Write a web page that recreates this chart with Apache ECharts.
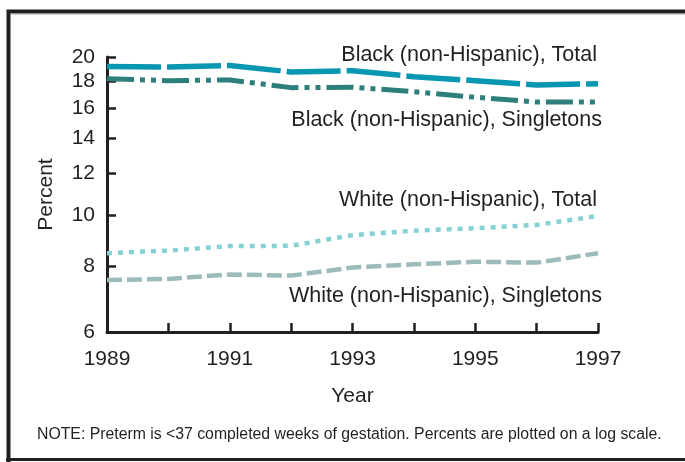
<!DOCTYPE html>
<html>
<head>
<meta charset="utf-8">
<script src="https://cdn.jsdelivr.net/npm/echarts@6/dist/echarts.min.js"></script>
<style>
html,body{margin:0;padding:0;background:#fff;}
#c{width:685px;height:462px;}
</style>
</head>
<body>
<div id="c"></div>
<script>
const years = ['1989','1990','1991','1992','1993','1994','1995','1996','1997'];
const blackTotal = [19.19, 19.14, 19.27, 18.73, 18.84, 18.35, 18.03, 17.69, 17.79];
const blackSingletons = [18.19, 18.03, 18.09, 17.49, 17.52, 17.18, 16.77, 16.42, 16.42];
const whiteTotal = [8.47, 8.57, 8.74, 8.75, 9.17, 9.35, 9.45, 9.59, 9.97];
const whiteSingletons = [7.53, 7.57, 7.72, 7.68, 7.96, 8.07, 8.16, 8.13, 8.47];
const yTicks = [6, 8, 10, 12, 14, 16, 18, 20];
const seriesNames = ['Black (non-Hispanic), Total', 'Black (non-Hispanic), Singletons',
                     'White (non-Hispanic), Total', 'White (non-Hispanic), Singletons'];
const note = 'NOTE: Preterm is <37 completed weeks of gestation. Percents are plotted on a log scale.';

const font = 'Liberation Sans, Arial, Helvetica, sans-serif';
const ink = '#231f20';
const chart = echarts.init(document.getElementById('c'), null, {renderer: 'canvas'});

function lbl(text, x, y, align) {
  return {type: 'text', x: x, y: y, style: {text: text, fill: ink, font: '21.5px ' + font, align: align, verticalAlign: 'middle'}};
}

chart.setOption({
  animation: false,
  backgroundColor: '#fff',
  grid: {left: 107, right: 87, top: 57, bottom: 130},
  xAxis: {
    type: 'category', data: years, boundaryGap: false,
    name: 'Year', nameLocation: 'middle', nameGap: 54,
    nameTextStyle: {color: ink, fontSize: 21, fontFamily: font},
    axisLine: {lineStyle: {color: ink, width: 3}},
    axisTick: {inside: true, length: 9, interval: 0, lineStyle: {color: ink, width: 2.5}},
    axisLabel: {interval: 1, color: ink, fontSize: 21, fontFamily: font, margin: 17},
    splitLine: {show: false}
  },
  yAxis: {
    type: 'log', logBase: 10, min: 6, max: 20,
    name: 'Percent', nameLocation: 'middle', nameGap: 50, nameRotate: 90,
    nameTextStyle: {color: ink, fontSize: 21, fontFamily: font},
    axisLine: {show: true, lineStyle: {color: ink, width: 3}},
    axisTick: {show: true, inside: true, length: 9, customValues: yTicks, lineStyle: {color: ink, width: 2.5}},
    axisLabel: {customValues: yTicks, color: ink, fontSize: 21, fontFamily: font, margin: 12},
    splitLine: {show: false},
    minorTick: {show: false}
  },
  series: [
    {name: seriesNames[0], type: 'line', data: blackTotal, symbol: 'none', z: 4,
     lineStyle: {color: '#0897b1', width: 5.5, type: [54, 6], cap: 'butt'}},
    {name: seriesNames[1], type: 'line', data: blackSingletons, symbol: 'none', z: 3,
     lineStyle: {color: '#2e7f7b', width: 5, type: [27, 6, 5, 6, 5, 6], cap: 'butt'}},
    {name: seriesNames[2], type: 'line', data: whiteTotal, symbol: 'none', z: 3,
     lineStyle: {color: '#86d1d3', width: 4.5, type: [5, 6], cap: 'butt'}},
    {name: seriesNames[3], type: 'line', data: whiteSingletons, symbol: 'none', z: 3,
     lineStyle: {color: '#9dbbbb', width: 4.5, type: [15, 5], cap: 'butt'}}
  ],
  graphic: [
    {type: 'polyline', shape: {points: [[8.5, 462], [8.5, 11.5], [690, 11.5]]}, style: {stroke: ink, lineWidth: 4, fill: null}},
    {type: 'line', shape: {x1: 10, y1: 14, x2: 690, y2: 14}, style: {stroke: '#9a9a9a', lineWidth: 1}},
    {type: 'line', shape: {x1: 6, y1: 459.5, x2: 690, y2: 459.5}, style: {stroke: ink, lineWidth: 3}},
    lbl(seriesNames[0], 597, 55, 'right'),
    lbl(seriesNames[1], 602, 120, 'right'),
    lbl(seriesNames[2], 597, 200, 'right'),
    lbl(seriesNames[3], 602, 296, 'right'),
    {type: 'text', x: 37, y: 435, style: {text: note, fill: ink, font: '15.8px ' + font, align: 'left', verticalAlign: 'middle'}}
  ]
});
</script>
</body>
</html>
